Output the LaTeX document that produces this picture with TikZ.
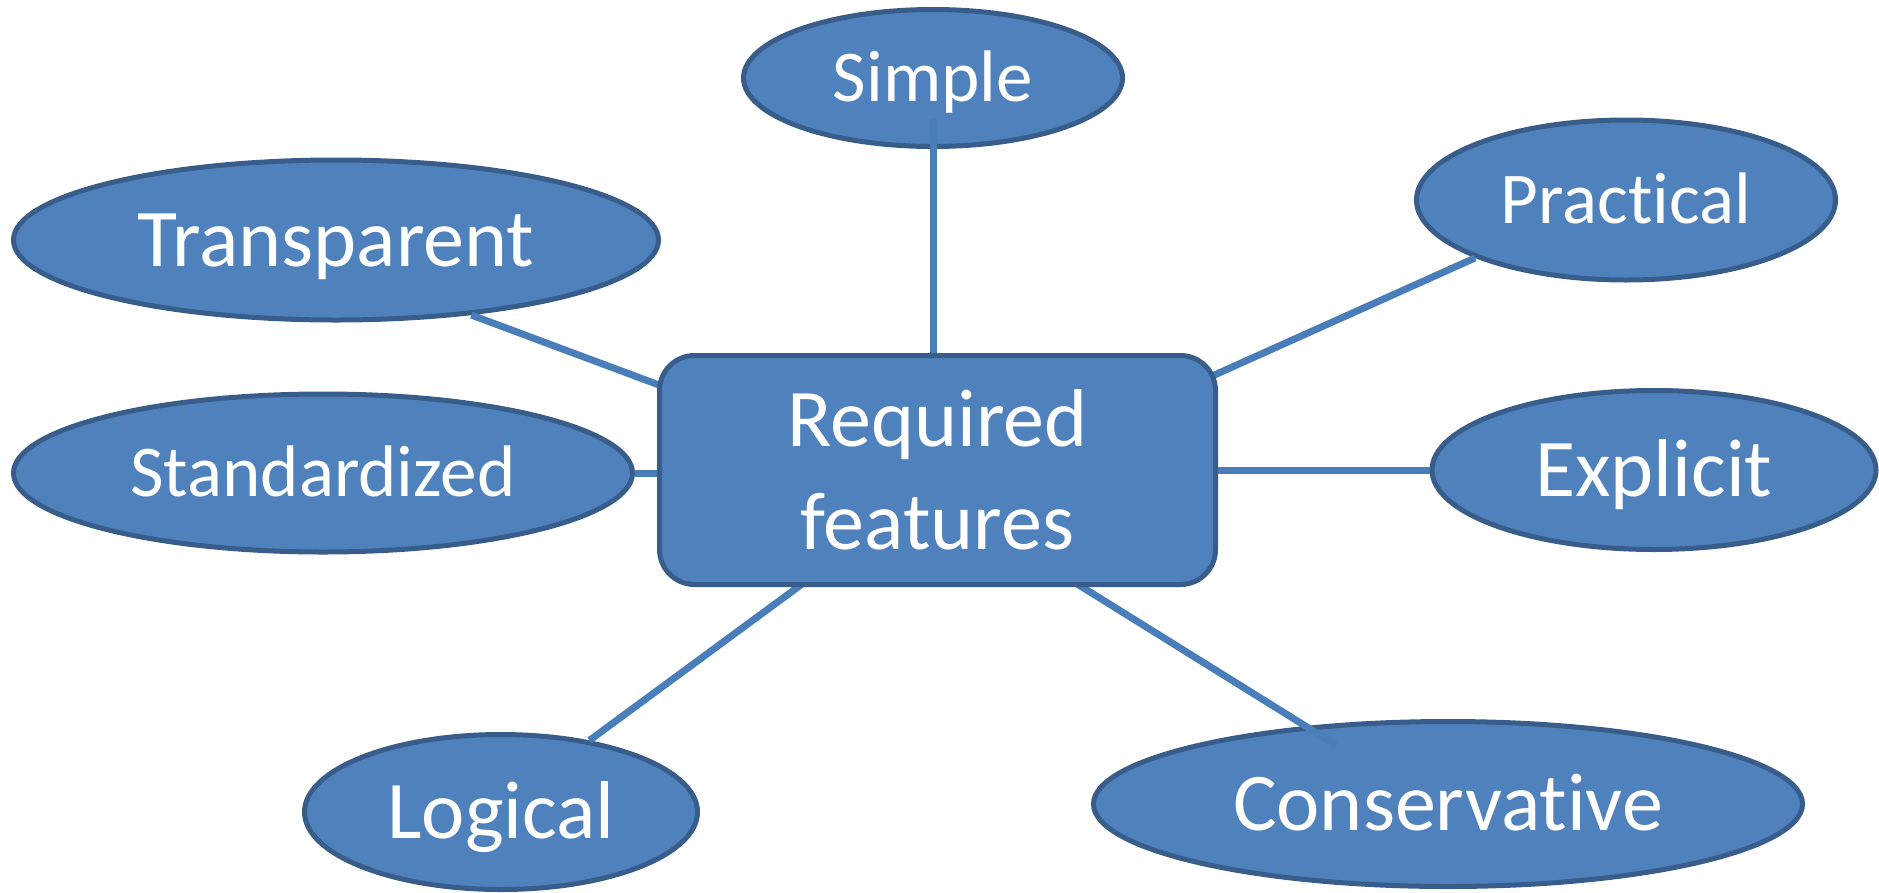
\documentclass[tikz,border=0pt]{standalone}
\usepackage{fontspec}
\setmainfont{Carlito}[Ligatures={NoCommon,NoContextual},Contextuals=NoAlternate]
\usetikzlibrary{shapes.geometric,calc}
\definecolor{bfill}{HTML}{4F81BD}
\definecolor{bline}{HTML}{385D8A}
\definecolor{cline}{HTML}{4A7EBB}
\pgfdeclarelayer{front}
\pgfsetlayers{main,front}
\begin{document}
\begin{tikzpicture}[x=1pt,y=-1pt,
  oval/.style={ellipse,draw=bline,fill=bfill,line width=5pt,inner sep=0pt,text=white,text depth=0pt},
  bigtxt/.style={font=\fontsize{82}{98}\selectfont,text height=52.8pt},
  smalltxt/.style={font=\fontsize{73}{88}\selectfont,text height=47pt},
  hub/.style={rectangle,rounded corners=35pt,draw=bline,fill=bfill,line width=5pt,text=white,align=center,font=\fontsize{82}{103}\selectfont,inner sep=0pt},
  conn/.style={draw=cline,line width=7pt}]
\useasboundingbox (0,0) rectangle (1879,892);
% ovals
\node[oval,smalltxt,minimum width=379pt,minimum height=137pt] (simple) at (933,78) {Simple};
\node[oval,smalltxt,minimum width=419pt,minimum height=160pt] (practical) at (1626,200) {Pract\kern0pt ical};
\node[oval,bigtxt,minimum width=645pt,minimum height=160pt] (transparent) at (336,240) {Transparent};
\node[oval,smalltxt,minimum width=619pt,minimum height=158pt] (standardized) at (323,473) {Standardized};
\node[oval,bigtxt,minimum width=444pt,minimum height=159pt] (explicit) at (1654,470) {Explicit};
\node[oval,bigtxt,minimum width=393pt,minimum height=155pt] (logical) at (501,812) {Logical};
\node[oval,bigtxt,minimum width=709pt,minimum height=165pt] (conservative) at (1448,804) {Conservat\kern0pt ive};
% hub on front layer
\begin{pgfonlayer}{front}
\node[hub,minimum width=556pt,minimum height=229pt] (rf) at (937.5,470) {Required\\features};
\end{pgfonlayer}
% connectors
\draw[conn] ([yshift=-40pt]simple.center) -- ([shift={(0pt,-8pt)}]simple.center |- rf.north);
\draw[conn,shorten <=-12pt] (rf.19.65) -- (practical.201.3);
\draw[conn,shorten <=-12pt] (rf.163.3) -- (transparent.-29.2);
\draw[conn,shorten <=-12pt] (rf.west |- standardized.east) -- (standardized.east);
\draw[conn,shorten <=-12pt] (rf.east) -- (explicit.west);
\draw[conn,shorten <=-12pt] (rf.220.8) -- (logical.39);
\draw[conn,shorten <=-12pt] (rf.-39.2) -- ([shift={(-112pt,59pt)}]conservative.center);
\end{tikzpicture}
\end{document}
